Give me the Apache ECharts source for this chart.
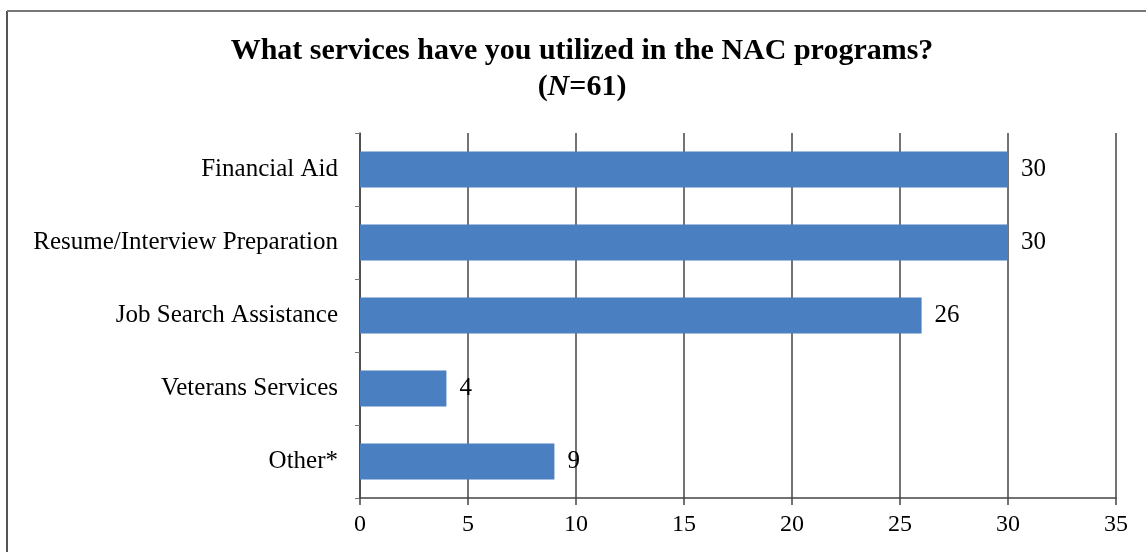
<!DOCTYPE html>
<html>
<head>
<meta charset="utf-8">
<script src="https://cdn.jsdelivr.net/npm/echarts@6/dist/echarts.min.js"></script>
<style>
  html, body { margin: 0; padding: 0; background: #fff; }
  #chart { width: 1146px; height: 552px; }
</style>
</head>
<body>
<div id="chart"></div>
<script>
// Services utilized in the NAC programs (N=61)
const categories = [
  'Financial Aid',
  'Resume/Interview Preparation',
  'Job Search Assistance',
  'Veterans Services',
  'Other*'
];
const counts = [30, 30, 26, 4, 9];
const xTicks = [0, 5, 10, 15, 20, 25, 30, 35];

const serif = '"Liberation Serif", "DejaVu Serif", "Times New Roman", serif';

const chart = echarts.init(document.getElementById('chart'), null, { renderer: 'canvas' });

chart.setOption({
  backgroundColor: '#ffffff',
  animation: false,
  title: {
    text: 'What services have you utilized in the NAC programs?',
    subtext: '({it|N}=61)',
    left: 577,
    top: 31,
    textAlign: 'center',
    itemGap: 6,
    textStyle: { fontFamily: serif, fontWeight: 'bold', fontSize: 30, color: '#000' },
    subtextStyle: {
      fontFamily: serif, fontWeight: 'bold', fontSize: 30, color: '#000',
      rich: { it: { fontFamily: serif, fontWeight: 'bold', fontStyle: 'italic', fontSize: 30, color: '#000' } }
    }
  },
  graphic: [
    // outer frame (left and top edges visible)
    { type: 'line', shape: { x1: 7, y1: 11, x2: 7, y2: 552 }, style: { stroke: '#555', lineWidth: 2 } },
    { type: 'line', shape: { x1: 7, y1: 11, x2: 1146, y2: 11 }, style: { stroke: '#777', lineWidth: 2 } }
  ],
  grid: { left: 360, right: 30, top: 133, bottom: 54 },
  xAxis: {
    type: 'value',
    min: 0,
    max: 35,
    interval: 5,
    axisLine: { show: true, lineStyle: { color: '#444', width: 1.5 } },
    axisTick: { show: true, length: 7, lineStyle: { color: '#444', width: 1.5 } },
    axisLabel: {
      margin: 15,
      fontFamily: serif, fontSize: 24, color: '#000',
      formatter: v => (xTicks.indexOf(v) >= 0 ? String(v) : '')
    },
    splitLine: { show: true, lineStyle: { color: '#444', width: 1.5 } }
  },
  yAxis: {
    type: 'category',
    inverse: true,
    data: categories,
    axisLine: { show: true, lineStyle: { color: '#444', width: 1.5 } },
    axisTick: { show: true, length: 5, lineStyle: { color: '#777', width: 1 } },
    axisLabel: { margin: 22, fontFamily: serif, fontSize: 25, color: '#000' }
  },
  series: [{
    type: 'bar',
    data: counts,
    barWidth: 36,
    itemStyle: { color: '#4a7fc1' },
    label: {
      show: true,
      position: 'right',
      distance: 13,
      fontFamily: serif,
      fontSize: 25,
      color: '#000'
    }
  }]
});
</script>
</body>
</html>
